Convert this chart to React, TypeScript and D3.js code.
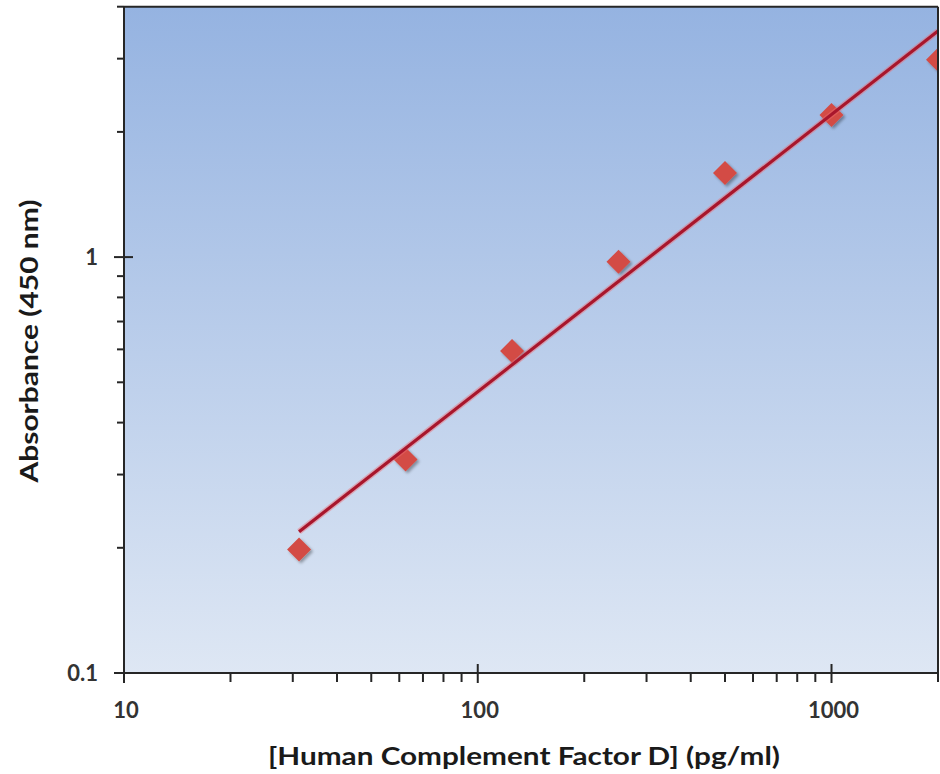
import React from "react";
import * as d3 from "d3";

const concentrations = [31.25, 62.5, 125, 250, 500, 1000, 2000];
const absorbance = [0.198, 0.326, 0.595, 0.974, 1.594, 2.197, 2.98];
const xTickLabels = [10, 100, 1000];
const yTickLabels = [0.1, 1];
const xTitle = "[Human Complement Factor D] (pg/ml)";
const yTitle = "Absorbance (450 nm)";

const W = 940;
const H = 774;
const left = 124;
const right = 938;
const top = 6.7;
const bottom = 673;

export default function App() {
  const x = d3.scaleLog().domain([10, 2000]).range([left, right]);
  const y = d3.scaleLog().domain([0.1, 4]).range([bottom, top]);

  // power-law (log-log least squares) trend line
  const lx = concentrations.map(Math.log10);
  const ly = absorbance.map(Math.log10);
  const mx = d3.mean(lx) as number;
  const my = d3.mean(ly) as number;
  const slope =
    d3.sum(lx.map((v, i) => (v - mx) * (ly[i] - my))) /
    d3.sum(lx.map((v) => (v - mx) * (v - mx)));
  const intercept = my - slope * mx;
  const xMin = d3.min(concentrations) as number;
  const xMax = d3.max(concentrations) as number;
  const fitPts: [number, number][] = [xMin, xMax].map((c) => [
    c,
    Math.pow(10, intercept + slope * Math.log10(c)),
  ]);
  const line = d3
    .line<[number, number]>()
    .x((d) => x(d[0]))
    .y((d) => y(d[1]));

  const xMinor: number[] = [];
  [10, 100, 1000].forEach((dec) => {
    for (let k = 2; k <= 9; k++) {
      const v = dec * k;
      if (v <= 2000) xMinor.push(v);
    }
  });
  const yMinor: number[] = [];
  [0.1, 1].forEach((dec) => {
    for (let k = 2; k <= 9; k++) {
      const v = +(dec * k).toFixed(3);
      if (v <= 4) yMinor.push(v);
    }
  });

  const axisColor = "#262626";
  const tickFont = {
    fontFamily: "Lato, 'Open Sans', sans-serif",
    fontWeight: 700,
    fontSize: 22,
    fill: "#333333",
  } as const;
  const titleFont = {
    fontFamily: "Lato, 'Open Sans', sans-serif",
    fontWeight: 700,
    fontSize: 25,
    fill: "#1a1a1a",
  } as const;

  const diamond = 12;

  return (
    <svg
      width={W}
      height={H}
      style={{ position: "absolute", left: 0, top: 0, background: "#ffffff" }}
    >
      <defs>
        <linearGradient id="bg" x1="0" y1="0" x2="0" y2="1">
          <stop offset="0%" stopColor="#95b3e1" />
          <stop offset="100%" stopColor="#dee7f4" />
        </linearGradient>
        <clipPath id="plot">
          <rect x={left} y={top} width={right - left} height={bottom - top} />
        </clipPath>
        <filter id="shadow" x="-50%" y="-50%" width="200%" height="200%">
          <feGaussianBlur in="SourceAlpha" stdDeviation="1.5" />
          <feOffset dx="1.5" dy="2" result="o" />
          <feComponentTransfer>
            <feFuncA type="linear" slope="0.35" />
          </feComponentTransfer>
          <feMerge>
            <feMergeNode />
            <feMergeNode in="SourceGraphic" />
          </feMerge>
        </filter>
      </defs>

      <rect
        x={left}
        y={top}
        width={right - left}
        height={bottom - top}
        fill="url(#bg)"
      />

      <g clipPath="url(#plot)">
        {concentrations.map((c, i) => {
          const cx = x(c);
          const cy = y(absorbance[i]);
          return (
            <path
              key={c}
              d={`M${cx},${cy - diamond}L${cx + diamond},${cy}L${cx},${cy + diamond}L${cx - diamond},${cy}Z`}
              fill="#d34c45"
              filter="url(#shadow)"
            />
          );
        })}
        <path
          d={line(fitPts) || ""}
          fill="none"
          stroke="#ee6a72"
          strokeOpacity={0.45}
          strokeWidth={6}
        />
        <path
          d={line(fitPts) || ""}
          fill="none"
          stroke="#a8162c"
          strokeWidth={3.2}
        />
      </g>

      {/* frame */}
      <line x1={left} x2={right} y1={top} y2={top} stroke={axisColor} strokeWidth={2} />
      <line x1={right} x2={right} y1={top} y2={bottom} stroke={axisColor} strokeWidth={2} />
      <line x1={left} x2={right} y1={bottom} y2={bottom} stroke={axisColor} strokeWidth={2} />
      <line x1={left} x2={left} y1={top} y2={bottom} stroke={axisColor} strokeWidth={2} />

      {/* x ticks */}
      {xMinor.map((v) => (
        <line key={"xm" + v} x1={x(v)} x2={x(v)} y1={bottom} y2={bottom + 9} stroke={axisColor} strokeWidth={2} />
      ))}
      {xTickLabels.map((v) => (
        <g key={"xt" + v}>
          <line x1={x(v)} x2={x(v)} y1={bottom - 9} y2={bottom + 10} stroke={axisColor} strokeWidth={2} />
          <text x={x(v) + 2} y={bottom + 45} textAnchor="middle" style={tickFont}>
            {v}
          </text>
        </g>
      ))}

      {/* y ticks */}
      {yMinor.map((v) => (
        <line key={"ym" + v} x1={left - 7} x2={left} y1={y(v)} y2={y(v)} stroke={axisColor} strokeWidth={2} />
      ))}
      {yTickLabels.map((v) => (
        <g key={"yt" + v}>
          <line x1={left - 10} x2={left + 9} y1={y(v)} y2={y(v)} stroke={axisColor} strokeWidth={2} />
          <text x={left - 26} y={y(v) + 8} textAnchor="end" style={tickFont}>
            {v}
          </text>
        </g>
      ))}

      {/* titles */}
      <text
        x={524}
        y={765}
        textAnchor="middle"
        textLength={512}
        lengthAdjust="spacingAndGlyphs"
        style={titleFont}
      >
        {xTitle}
      </text>
      <text
        transform={`translate(38,${341}) rotate(-90)`}
        textAnchor="middle"
        textLength={283}
        lengthAdjust="spacingAndGlyphs"
        style={titleFont}
      >
        {yTitle}
      </text>
    </svg>
  );
}
